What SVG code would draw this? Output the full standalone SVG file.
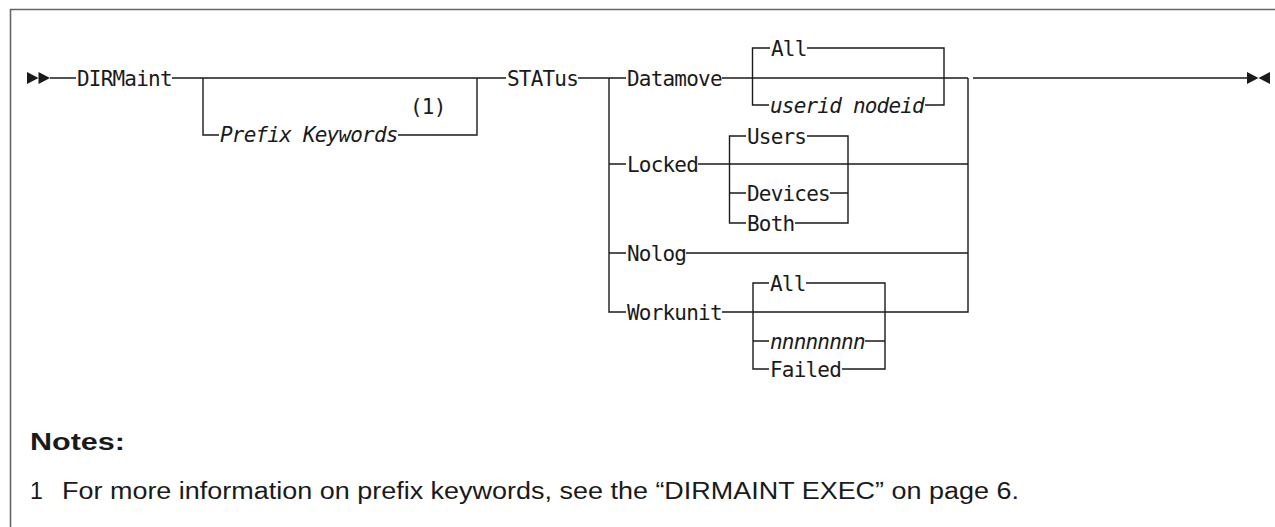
<svg xmlns="http://www.w3.org/2000/svg" width="1275" height="527" viewBox="0 0 1275 527">
<style>
.t{font-family:"DejaVu Sans Mono","Liberation Mono",monospace;font-size:21px;letter-spacing:-0.8px;fill:#1a1a1a}
.i{font-style:italic}
.c{fill:none;stroke:#1a1a1a;stroke-width:1.4}
.a{fill:#1a1a1a}
.n{font-family:"Liberation Sans",Arial,sans-serif;font-size:23px;fill:#1a1a1a}
</style>
<rect width="1275" height="527" fill="#fff"/>
<g id="frame"><path d="M10.5,527 V9.5 H1275" fill="none" stroke="#666" stroke-width="1.6"/></g>
<g id="connectors">
<polygon class="a" points="27,72 38.5,78 27,84"/>
<polygon class="a" points="38.5,72 50,78 38.5,84"/>
<polygon class="a" points="1247,72 1258.5,78 1247,84"/>
<polygon class="a" points="1270,72 1258.5,78 1270,84"/>
<path class="c" d="M50,78 H76 M172,78 H506 M578,78 H626 M722,78 H968 M973,78 H1247"/>
<path class="c" d="M203,78 V135 H219 M398,135 H477 V78"/>
<path class="c" d="M609,78 V312 H626 M609,164 H626 M609,253 H626"/>
<path class="c" d="M968,78 V312 H722 M698,164 H968 M686,253 H968"/>
<path class="c" d="M770,48 H752.5 V105 H769 M807,48 H944 V105 H925"/>
<path class="c" d="M746,136 H729.5 V223 H746 M807,136 H848 V223 H795 M729.5,193 H746 M830,193 H848"/>
<path class="c" d="M769,283 H753 V369 H769 M806,283 H885 V369 H842 M753,341 H769 M865,341 H885"/>
</g>
<g id="n-dirmaint"><text class="t" x="77" y="85.5">DIRMaint</text></g>
<g id="n-prefix"><text class="t" x="410" y="114">(1)</text><text class="t i" x="220" y="142">Prefix Keywords</text></g>
<g id="n-status"><text class="t" x="507" y="85.5">STATus</text></g>
<g id="n-datamove"><text class="t" x="627" y="85.5">Datamove</text></g>
<g id="n-dm-all"><text class="t" x="771" y="55.5">All</text></g>
<g id="n-dm-userid"><text class="t i" x="770" y="112.5">userid nodeid</text></g>
<g id="n-locked"><text class="t" x="627" y="171.5">Locked</text></g>
<g id="n-users"><text class="t" x="747" y="143.5">Users</text></g>
<g id="n-devices"><text class="t" x="747" y="200.5">Devices</text></g>
<g id="n-both"><text class="t" x="747" y="230.5">Both</text></g>
<g id="n-nolog"><text class="t" x="627" y="260.5">Nolog</text></g>
<g id="n-workunit"><text class="t" x="627" y="319.5">Workunit</text></g>
<g id="n-wu-all"><text class="t" x="770" y="290.5">All</text></g>
<g id="n-wu-n"><text class="t i" x="770" y="348.5">nnnnnnnn</text></g>
<g id="n-wu-failed"><text class="t" x="770" y="376.5">Failed</text></g>
<g id="notes">
<text class="n" x="30" y="450" font-weight="bold" textLength="95" lengthAdjust="spacingAndGlyphs">Notes:</text>
<text class="n" x="30" y="499">1</text>
<text class="n" x="62" y="499" textLength="957" lengthAdjust="spacingAndGlyphs">For more information on prefix keywords, see the “DIRMAINT EXEC” on page 6.</text>
</g>
</svg>
